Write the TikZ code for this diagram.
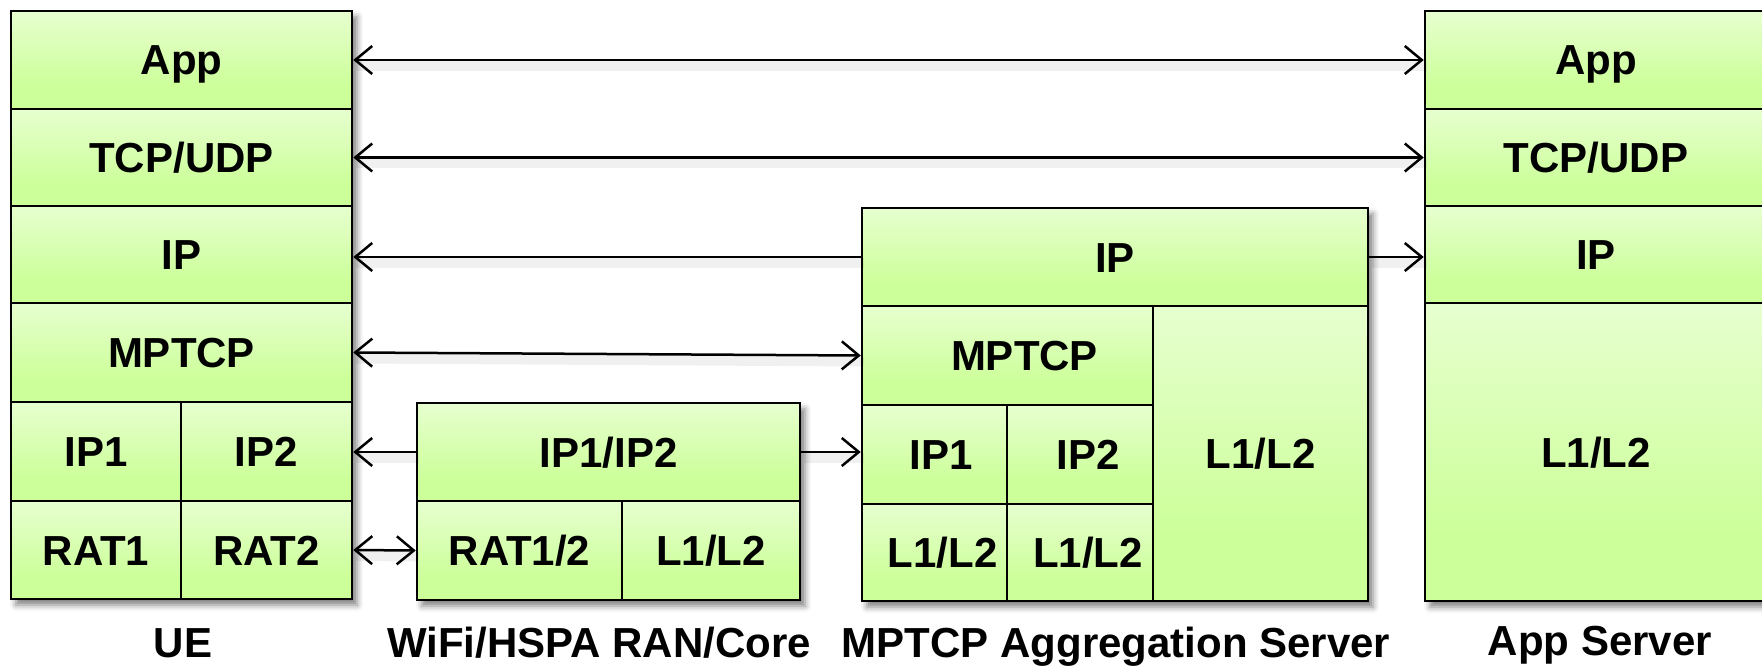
\documentclass[tikz,border=0pt]{standalone}
\usepackage{fontspec}
\setmainfont{Liberation Sans}
\usetikzlibrary{arrows.meta,shadows.blur}
\definecolor{cellgreen}{RGB}{204,255,153}
\definecolor{celltop}{RGB}{248,255,242}
\pgfdeclareverticalshading{cellshade}{100bp}{color(0bp)=(cellgreen); color(36bp)=(cellgreen); color(100bp)=(celltop)}
% name, x1, y1, x2, y2, text
\newcommand\mkcell[6]{\node[cell, minimum width={#4-#2}, minimum height={#5-#3}] (#1) at ({(#2+#4)/2},{(#3+#5)/2}) {#6};}
\begin{document}
\begin{tikzpicture}[x=1pt,y=-1pt,
  txt/.style={font=\bfseries\fontsize{42}{50}\selectfont, text height=30pt, text depth=0pt, inner sep=0pt},
  cell/.style={txt, draw=black, line width=2.5pt, shade, shading=cellshade, rectangle},
  devshadow/.style={fill=white, blur shadow={shadow xshift=5pt, shadow yshift=-6pt, shadow blur radius=6pt, shadow opacity=50}},
  conn/.style={line width=2.5pt, draw=black, >={Straight Barb[length=17pt,width=28pt]},
    preaction={draw=black, opacity=0.06, line width=10pt, -, transform canvas={xshift=3pt,yshift=-6pt}}},
  lab/.style={txt}]
\useasboundingbox (0,0) rectangle (1762,666);
% shadows of the devices
\path[devshadow] (11,11) rectangle (352,599);
\path[devshadow] (417,403) rectangle (800,600);
\path[devshadow] (862,208) rectangle (1368,601);
\path[devshadow] (1425,11) rectangle (1767,601);
% UE
\mkcell{ueapp}{11}{11}{352}{109}{App}
\mkcell{uetcp}{11}{109}{352}{206}{TCP/UDP}
\mkcell{ueip}{11}{206}{352}{303}{IP}
\mkcell{uemptcp}{11}{303}{352}{402}{MPTCP}
\mkcell{ueipone}{11}{402}{181}{501}{IP1}
\mkcell{ueiptwo}{181}{402}{352}{501}{IP2}
\mkcell{ueratone}{11}{501}{181}{599}{RAT1}
\mkcell{uerattwo}{181}{501}{352}{599}{RAT2}
% WiFi/HSPA
\mkcell{wfip}{417}{403}{800}{501}{IP1/IP2}
\mkcell{wfrat}{417}{501}{622}{600}{RAT1/2}
\mkcell{wfl}{622}{501}{800}{600}{L1/L2}
% MPTCP aggregation server
\mkcell{srvip}{862}{208}{1368}{306}{IP}
\mkcell{srvmptcp}{862}{306}{1153}{405}{\hspace*{34pt}MPTCP}
\mkcell{srvl}{1153}{306}{1368}{601}{L1/L2}
\mkcell{srvipone}{862}{405}{1007}{504}{\hspace*{14pt}IP1}
\mkcell{srviptwo}{1007}{405}{1153}{504}{\hspace*{16pt}IP2}
\mkcell{srvlone}{862}{504}{1007}{601}{\hspace*{16pt}L1/L2}
\mkcell{srvltwo}{1007}{504}{1153}{601}{\hspace*{16pt}L1/L2}
% App server
\mkcell{appapp}{1425}{11}{1767}{109}{App}
\mkcell{apptcp}{1425}{109}{1767}{206}{TCP/UDP}
\mkcell{appip}{1425}{206}{1767}{303}{IP}
\mkcell{appl}{1425}{303}{1767}{601}{L1/L2}
% connectors
\draw[conn,<->] (ueapp.east) -- (appapp.west);
\draw[conn,<->] (uetcp.east) -- (apptcp.west);
\draw[conn,->] (srvip.west) -- (ueip.east |- srvip.west);
\draw[conn,->] (srvip.east) -- (appip.west |- srvip.east);
\draw[conn,<->] (uemptcp.east) -- (srvmptcp.west);
\draw[conn,->] (wfip.west) -- (ueiptwo.east |- wfip.west);
\draw[conn,->] (wfip.east) -- (srvipone.west |- wfip.east);
\draw[conn,<->] (uerattwo.east) -- (wfrat.west);
% labels
\node[lab] (uelab) at (183,642) {UE};
\node[lab] (wflab) at (599,642) {WiFi/HSPA RAN/Core};
\node[lab] (srvlab) at (1116,642) {MPTCP Aggregation Server};
\node[lab] (applab) at (1600,640) {App Server};
\end{tikzpicture}
\end{document}
